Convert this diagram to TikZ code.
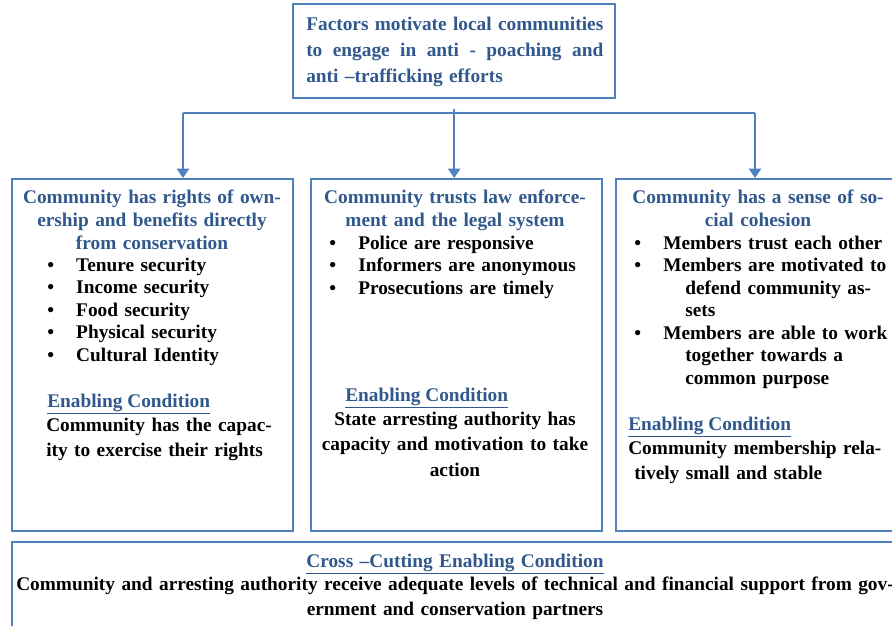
\documentclass[tikz,border=0pt]{standalone}
\usepackage{fontspec}
\setmainfont{Liberation Serif}
\usetikzlibrary{positioning,arrows.meta}
\definecolor{frameblue}{RGB}{79,129,189}
\definecolor{headblue}{RGB}{48,88,140}
% bullet followed by its hanging gap
\newcommand{\bul}{\makebox[21.75pt][l]{\textbullet}}
\newcommand{\cont}{\hspace*{38.25pt}}
% a line spread out to the full width (spaces made stretchable again)
\newcommand{\fullline}[1]{\makebox[222.75pt][s]{\spaceskip=0pt\xspaceskip=0pt #1}}

\begin{document}
\begin{tikzpicture}[x=0.75pt,y=-0.75pt,
        box/.style={draw=frameblue,line width=1.8pt,inner sep=0pt,anchor=north west},
        head/.style={text=headblue,font=\bfseries\fontsize{14.5}{17.25}\selectfont,
                     text width=250pt,align=center,inner sep=0pt,anchor=base},
        items/.style={font=\bfseries\fontsize{14.5}{16.9}\selectfont,text width=205pt,
                      align=left,inner sep=0pt,anchor=base west},
        cond/.style={text=headblue,font=\bfseries\fontsize{14.5}{17}\selectfont,
                     inner sep=0pt,anchor=base west},
        note/.style={font=\bfseries\fontsize{14.5}{19.2}\selectfont,text width=230pt,
                     inner sep=0pt},
        link/.style={draw=frameblue,line width=1.8pt},
        arr/.style={link,-{Triangle[length=7pt,width=9pt]}}]
    \clip (0,0) rectangle (892,625);

    % frames
    \node[box,minimum width=241.5pt,minimum height=70.5pt] (goal) at (292,3) {};
    \node[box,minimum width=210.75pt,minimum height=264pt] (rights) at (11,178) {};
    \node[box,minimum width=218.25pt,minimum height=264pt] (trust) at (310,178) {};
    \node[box,minimum width=217.5pt,minimum height=264pt] (cohesion) at (615,178) {};
    \node[box,minimum width=670.5pt,minimum height=74.25pt] (cross) at (11,541) {};

    % top question
    \node[text=headblue,font=\bfseries\fontsize{14.5}{19.5}\selectfont,text width=222.75pt,
          align=left,inner sep=0pt,anchor=base west] (goaltxt) at (306,30)
        {\fullline{Factors motivate local communities}\\
         \fullline{to engage in anti - poaching and}\\
         anti --trafficking efforts};

    % connectors
    \coordinate (busL) at (183,113);
    \coordinate (busR) at (755,113);
    \draw[link] (busL) -- (busR);
    \draw[arr] (busL) -- (busL |- rights.north);
    \draw[arr] (busR) -- (busR |- cohesion.north);
    \draw[arr,shorten <=7.5pt] (goal.south) -- (goal.south |- trust.north);

    % ownership column
    \node[head] (rightshead) at (152,203)
        {Community has rights of own-\\ership and benefits directly\\from conservation};
    \node[items] (rightslist) at (47,271)
        {\bul Tenure security\\\bul Income security\\\bul Food security\\
         \bul Physical security\\\bul Cultural Identity};
    \node[cond] (rightscond) at (47,407) {\underline{Enabling Condition}};
    \node[note,align=left,anchor=base west] (rightsnote) at (46,431)
        {Community has the capac-\\ity to exercise their rights};

    % law enforcement column
    \node[head] (trusthead) at (455,203)
        {Community trusts law enforce-\\ment and the legal system};
    \node[items] (trustlist) at (329,249)
        {\bul Police are responsive\\\bul Informers are anonymous\\\bul Prosecutions are timely};
    \node[cond] (trustcond) at (345,401) {\underline{Enabling Condition}};
    \node[note,align=center,anchor=base] (trustnote) at (455,425)
        {State arresting authority has\\capacity and motivation to take\\action};

    % cohesion column
    \node[head] (cohesionhead) at (758,203)
        {Community has a sense of so-\\cial cohesion};
    \node[items] (cohesionlist) at (634,249)
        {\bul Members trust each other\\
         \bul Members are motivated to\\\cont defend community as-\\\cont sets\\
         \bul Members are able to work\\\cont together towards a\\\cont common purpose};
    \node[cond] (cohesioncond) at (628,430) {\underline{Enabling Condition}};
    \node[note,align=left,anchor=base west] (cohesionnote) at (628,454)
        {Community membership rela-\\\hspace*{4.5pt}tively small and stable};

    % cross-cutting condition
    \node[head,text width=670pt] (crosshead) at (455,567)
        {\underline{Cross --Cutting Enabling Condition}};
    \node[note,text width=670pt,align=center,anchor=base] (crossnote) at (455,590)
        {Community and arresting authority receive adequate levels of technical and financial support from gov-\\
         ernment and conservation partners};
\end{tikzpicture}
\end{document}
